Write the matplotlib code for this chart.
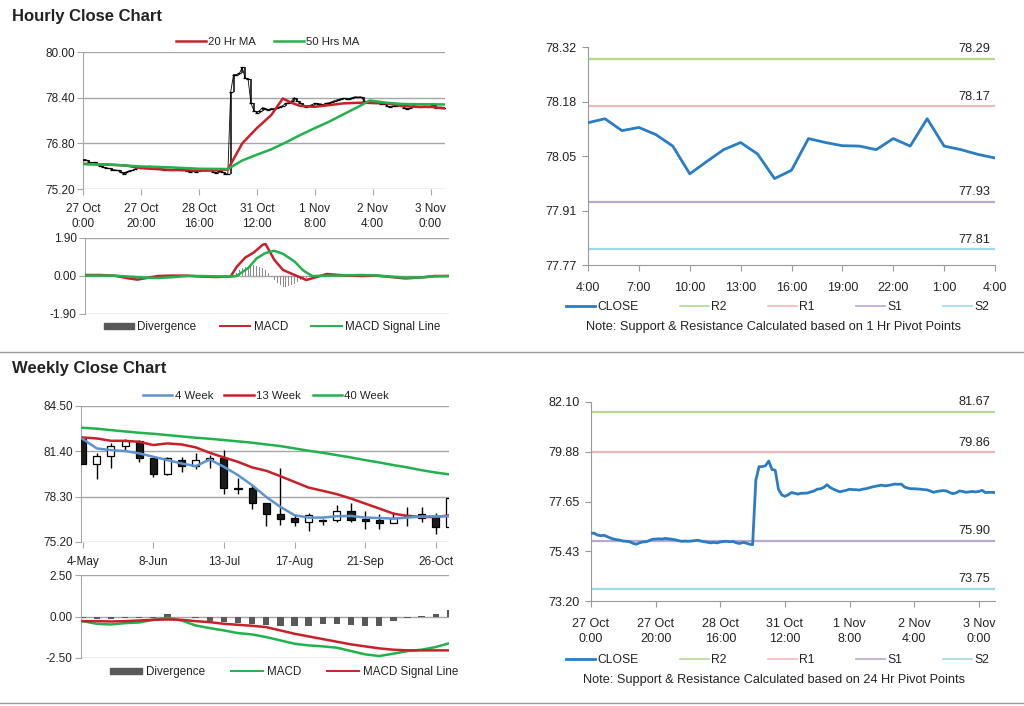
import matplotlib
matplotlib.use('Agg')
import matplotlib.pyplot as plt
from matplotlib.lines import Line2D
from matplotlib.patches import Patch, Rectangle

plt.rcParams['font.family'] = ['Liberation Sans', 'DejaVu Sans']

# ---------------- DATA ----------------
# Hourly close (index = trading hour from 27 Oct 0:00)
hourly_close = [
    76.23, 76.23, 76.15, 76.12, 76.14, 76.08, 76.02, 75.97, 75.94, 75.92,
    75.88, 75.87, 75.85, 75.78, 75.74, 75.80, 75.84, 75.85, 75.90, 75.96,
    75.97, 75.98, 75.97, 76.00, 75.98, 75.96, 75.94, 75.90, 75.87, 75.88,
    75.87, 75.88, 75.90, 75.92, 75.88, 75.85, 75.83, 75.80, 75.82, 75.80,
    75.84, 75.86, 75.87, 75.85, 75.86, 75.80, 75.77, 75.82, 75.79, 75.74,
    75.72, 78.60, 79.21, 79.21, 79.25, 79.46, 79.08, 79.05, 78.20, 77.95,
    77.88, 77.95, 78.05, 78.02, 77.98, 78.02, 78.02, 78.03, 78.08, 78.12,
    78.20, 78.22, 78.28, 78.40, 78.28, 78.20, 78.14, 78.08, 78.12, 78.15,
    78.20, 78.18, 78.18, 78.16, 78.20, 78.22, 78.26, 78.30, 78.33, 78.36,
    78.38, 78.35, 78.37, 78.40, 78.43, 78.42, 78.43, 78.30, 78.25, 78.22,
    78.22, 78.21, 78.20, 78.18, 78.17, 78.12, 78.06, 78.10, 78.12, 78.14,
    78.12, 78.05, 78.00, 78.04, 78.12, 78.10, 78.06, 78.08, 78.10, 78.08,
    78.10, 78.15, 78.05, 78.06, 78.06, 78.05]
hour_tick_pos = [0, 20, 40, 60, 80, 100, 120]
hour_tick_labels = ['27 Oct\n0:00', '27 Oct\n20:00', '28 Oct\n16:00', '31 Oct\n12:00',
                    '1 Nov\n8:00', '2 Nov\n4:00', '3 Nov\n0:00']

ma20_hours = [0, 5, 10, 15, 20, 25, 30, 35, 40, 45, 50, 55, 60, 65, 69, 72, 75, 80,
              85, 90, 95, 100, 105, 110, 115, 120, 125]
ma20_vals = [76.08, 76.06, 76.05, 76.02, 75.93, 75.90, 75.87, 75.86, 75.84, 75.85, 75.88,
             76.80, 77.33, 77.79, 78.37, 78.22, 78.11, 78.08, 78.14, 78.20, 78.22, 78.22,
             78.20, 78.11, 78.08, 78.08, 78.02]
ma50_hours = [0, 10, 20, 30, 40, 50, 55, 60, 65, 70, 75, 80, 85, 90, 95, 99, 105, 110,
              115, 120, 125]
ma50_vals = [76.08, 76.05, 75.99, 75.96, 75.91, 75.90, 76.20, 76.40, 76.59, 76.83, 77.09,
             77.33, 77.56, 77.82, 78.08, 78.30, 78.22, 78.18, 78.17, 78.17, 78.16]

macd_hours = [0, 5, 10, 15, 18, 22, 25, 30, 35, 40, 45, 50, 52, 55, 58, 61, 62, 65, 68,
              72, 76, 80, 83, 90, 95, 100, 105, 110, 115, 120, 125]
macd_vals = [0.05, 0.05, 0.02, -0.12, -0.18, -0.08, 0.0, 0.02, 0.02, -0.03, -0.05, -0.03,
             0.44, 0.92, 1.18, 1.56, 1.60, 0.81, 0.30, 0.05, -0.20, -0.03, 0.10, 0.02,
             0.0, 0.02, -0.05, -0.12, -0.08, 0.0, 0.0]
signal_hours = [0, 10, 20, 25, 30, 35, 40, 45, 50, 52, 56, 59, 62, 65, 68, 72, 75, 78,
                85, 95, 100, 105, 110, 115, 120, 125]
signal_vals = [0.02, 0.02, -0.08, -0.10, -0.06, 0.0, 0.0, -0.02, -0.03, 0.0, 0.39, 0.89,
               1.15, 1.26, 1.11, 0.72, 0.27, 0.0, 0.02, 0.05, 0.03, -0.03, -0.08, -0.08,
               -0.02, 0.0]
div_hours = [8, 9, 10, 11, 30, 31, 32, 51, 52, 53, 54, 55, 56, 57, 58, 59, 60, 61, 62, 63,
             64, 65, 66, 67, 68, 69, 70, 71, 72, 73, 74, 75, 76, 77, 85, 86, 87, 88]
div_vals = [-0.04, -0.05, -0.04, -0.03, 0.04, 0.05, 0.04, 0.05, 0.15, 0.28, 0.38, 0.45,
            0.50, 0.53, 0.53, 0.50, 0.45, 0.40, 0.30, 0.15, -0.05, -0.20, -0.35, -0.45,
            -0.55, -0.55, -0.50, -0.45, -0.38, -0.30, -0.22, -0.15, -0.08, -0.03,
            -0.04, -0.05, -0.04, -0.03]

# 1-hour pivot chart (4:00 to 4:00)
pivot1_close = [78.129, 78.139, 78.109, 78.117, 78.099, 78.070, 78.000, 78.031, 78.061,
                78.079, 78.050, 77.988, 78.009, 78.089, 78.079, 78.071, 78.070, 78.061,
                78.089, 78.070, 78.139, 78.070, 78.061, 78.049, 78.040]
pivot1_ticks = ['4:00', '7:00', '10:00', '13:00', '16:00', '19:00', '22:00', '1:00', '4:00']
pivot1_levels = {'R2': 78.29, 'R1': 78.17, 'S1': 77.93, 'S2': 77.81}
pivot24_levels = {'R2': 81.67, 'R1': 79.86, 'S1': 75.90, 'S2': 73.75}

# Weekly candles (4-May ... 2-Nov)
wk_open = [82.24, 80.52, 81.05, 81.76, 82.10, 80.91, 79.84, 80.84, 80.39, 80.80, 80.93,
           78.90, 78.90, 77.87, 77.14, 76.82, 76.57, 76.73, 76.73, 77.33, 76.80, 76.68,
           76.50, 76.98, 77.10, 76.91, 76.23]
wk_close = [80.52, 81.05, 81.76, 82.10, 80.91, 79.84, 80.91, 80.39, 80.80, 80.93, 78.86,
            78.80, 77.87, 77.09, 76.80, 76.57, 77.03, 76.62, 77.33, 76.73, 76.64, 76.50,
            76.84, 77.07, 76.85, 76.23, 78.24]
wk_high = [82.35, 81.26, 81.94, 82.26, 82.17, 81.03, 81.03, 80.98, 81.26, 81.12, 81.48,
           79.61, 79.13, 77.87, 80.23, 77.03, 77.19, 76.80, 77.76, 77.87, 77.33, 77.10,
           77.26, 77.62, 77.62, 77.17, 78.24]
wk_low = [80.52, 79.54, 80.29, 81.48, 80.64, 79.66, 79.77, 80.00, 80.16, 80.29, 78.47,
          78.47, 77.48, 76.30, 76.34, 76.27, 75.95, 76.37, 76.57, 76.57, 76.10, 76.10,
          76.50, 76.30, 76.57, 75.77, 76.23]
wk_ma4 = [82.24, 81.60, 81.48, 81.42, 81.26, 81.03, 80.80, 80.57, 80.39, 80.84, 80.34,
          79.77, 79.08, 78.28, 77.60, 77.03, 76.87, 76.87, 76.96, 76.98, 76.87, 76.84,
          76.80, 76.87, 76.94, 76.96, 76.96]
wk_ma13 = [82.35, 82.28, 82.12, 82.12, 82.05, 81.83, 81.94, 81.87, 81.67, 81.30, 80.98,
           80.68, 80.30, 80.07, 79.70, 79.31, 78.92, 78.70, 78.47, 78.17, 77.83, 77.49,
           77.14, 76.98, 76.91, 76.91, 77.03]
wk_ma40 = [83.01, 82.95, 82.85, 82.76, 82.67, 82.60, 82.51, 82.42, 82.33, 82.26, 82.17,
           82.08, 81.99, 81.87, 81.76, 81.60, 81.44, 81.30, 81.14, 80.98, 80.80, 80.64,
           80.46, 80.30, 80.11, 79.95, 79.82]
wk_tick_pos = [0, 5, 10, 15, 20, 25]
wk_tick_labels = ['4-May', '8-Jun', '13-Jul', '17-Aug', '21-Sep', '26-Oct']
wk_macd = [-0.28, -0.44, -0.48, -0.40, -0.36, -0.20, -0.08, -0.24, -0.54, -0.70, -0.84,
           -1.00, -1.08, -1.24, -1.44, -1.64, -1.74, -1.80, -1.88, -2.08, -2.28, -2.38,
           -2.24, -2.08, -2.00, -1.84, -1.60]
wk_signal = [-0.28, -0.28, -0.30, -0.28, -0.24, -0.20, -0.18, -0.20, -0.28, -0.34, -0.44,
             -0.50, -0.56, -0.64, -0.84, -1.04, -1.20, -1.36, -1.52, -1.68, -1.80, -1.92,
             -2.00, -2.04, -2.04, -2.04, -2.04]
wk_div = [-0.10, -0.15, -0.15, -0.10, -0.10, -0.08, 0.16, -0.05, -0.10, -0.30, -0.35,
          -0.40, -0.45, -0.50, -0.55, -0.60, -0.55, -0.45, -0.45, -0.50, -0.55, -0.55,
          -0.25, -0.08, 0.05, 0.15, 0.40]

# ---------------- STYLE ----------------
RED = '#c8202a'
GREEN = '#22b14c'
BLUE4 = '#5f93cf'
CLOSE_BLUE = '#2a7cc4'
LEVEL_COLORS = {'R2': '#b5d98f', 'R1': '#f2b8b8', 'S1': '#b9a8d2', 'S2': '#9fd8e8'}
GRID = '#a6a6a6'
TXT = '#222222'

W, H = 1024, 706
fig = plt.figure(figsize=(W / 100, H / 100), dpi=100)


def ax_px(l, t, r, b):
    return fig.add_axes([l / W, 1 - b / H, (r - l) / W, (b - t) / H])


def style_left(ax, yticks, fmt, xpad=4):
    ax.set_yticks(yticks)
    ax.set_yticklabels([fmt % v for v in yticks])
    ax.set_ylim(yticks[0], yticks[-1])
    ax.grid(axis='y', color=GRID, lw=1)
    ax.grid(axis='x', visible=False)
    ax.set_axisbelow(True)
    for s in ['top', 'right', 'bottom']:
        ax.spines[s].set_visible(False)
    ax.spines['left'].set_color(GRID)
    ax.tick_params(axis='y', length=4, color=GRID, labelsize=8.5, labelcolor=TXT, pad=2)
    ax.tick_params(axis='x', length=4, color=GRID, labelsize=8.5, labelcolor=TXT, pad=xpad)


def style_right(ax, ylo, yhi):
    step = (yhi - ylo) / 4
    ticks = [ylo + k * step for k in range(5)]
    ax.set_ylim(ylo, yhi)
    ax.set_yticks(ticks)
    ax.set_yticklabels(['%.2f' % (t + 1e-9) for t in ticks])
    for s in ['top', 'right']:
        ax.spines[s].set_visible(False)
    for s in ['left', 'bottom']:
        ax.spines[s].set_color('#999999')
    ax.tick_params(axis='y', length=4, color='#999999', labelsize=9, labelcolor=TXT, pad=4)
    ax.tick_params(axis='x', length=4, color='#999999', labelsize=9, labelcolor=TXT, pad=8)


def levels(ax, lv):
    for name in ['R2', 'R1', 'S1', 'S2']:
        v = lv[name]
        ax.axhline(v, color=LEVEL_COLORS[name], lw=1.6, zorder=1)
        ax.annotate('%.2f' % v, xy=(1.0, v), xycoords=('axes fraction', 'data'),
                    xytext=(-3.5, 2.5), textcoords='offset points', ha='right', va='bottom',
                    fontsize=9.2, color=TXT)


def right_legend(y_center, note):
    handles = [Line2D([], [], color=CLOSE_BLUE, lw=2)] + \
              [Line2D([], [], color=LEVEL_COLORS[n], lw=1.2) for n in ['R2', 'R1', 'S1', 'S2']]
    fig.legend(handles, ['CLOSE', 'R2', 'R1', 'S1', 'S2'], ncol=5, loc='center',
               bbox_to_anchor=(778 / W, 1 - y_center / H), frameon=False, fontsize=8.7,
               handlelength=2.4, handletextpad=0.2, columnspacing=3.4, labelcolor=TXT)
    fig.text(774 / W, 1 - (y_center + 20) / H, note, ha='center', va='center',
             fontsize=9.2, color=TXT)


hx = list(range(len(hourly_close)))
xmax_h = len(hourly_close) - 1

# ---------- Titles and separators ----------
fig.text(12 / W, 1 - 16 / H, 'Hourly Close Chart', fontsize=12, fontweight='bold',
         color=TXT, va='center', ha='left')
fig.text(12 / W, 1 - 369 / H, 'Weekly Close Chart', fontsize=12, fontweight='bold',
         color=TXT, va='center', ha='left')
fig.add_artist(Line2D([0, 1], [1 - 352 / H, 1 - 352 / H], color='#9a9a9a', lw=1))
fig.add_artist(Line2D([0, 1], [1 - 703 / H, 1 - 703 / H], color='#9a9a9a', lw=1))

# ---------- Top-left: hourly close with MAs ----------
ax1 = ax_px(83, 52, 445, 189)
ax1.set_xlim(0, xmax_h)
style_left(ax1, [75.2, 76.8, 78.4, 80.0], '%.2f', xpad=6)
ax1.vlines(hx[1:], hourly_close[:-1], hourly_close[1:], color='black', lw=1.1, zorder=3)
ax1.plot(hx, hourly_close, color='black', lw=0.6, marker='_', ms=2.5, mew=0.9, zorder=3)
ax1.plot(ma20_hours, ma20_vals, color=RED, lw=1.8, zorder=4)
ax1.plot(ma50_hours, ma50_vals, color=GREEN, lw=1.8, zorder=5)
ax1.set_xticks(hour_tick_pos)
ax1.set_xticklabels(hour_tick_labels, linespacing=1.3)
fig.legend([Line2D([], [], color=RED, lw=1.8), Line2D([], [], color=GREEN, lw=1.8)],
           ['20 Hr MA', '50 Hrs MA'], ncol=2, loc='center',
           bbox_to_anchor=(268 / W, 1 - 42 / H), frameon=False, fontsize=8.2,
           handlelength=2.6, handletextpad=0.2, columnspacing=1.6, labelcolor=TXT)

# ---------- Top-left MACD ----------
ax2 = ax_px(85, 238, 449, 314)
ax2.set_xlim(0, xmax_h)
style_left(ax2, [-1.9, 0.0, 1.9], '%.2f')
ax2.bar(div_hours, div_vals, width=0.35, color='#8a8a8a', zorder=2)
ax2.plot(macd_hours, macd_vals, color=RED, lw=1.8, zorder=3)
ax2.plot(signal_hours, signal_vals, color=GREEN, lw=1.8, zorder=4)
ax2.set_xticks([])
fig.legend([Patch(color='#595959'), Line2D([], [], color=RED, lw=1.4),
            Line2D([], [], color=GREEN, lw=1.4)],
           ['Divergence', 'MACD', 'MACD Signal Line'], ncol=3, loc='center',
           bbox_to_anchor=(272 / W, 1 - 327 / H), frameon=False, fontsize=8.4,
           handlelength=2.6, handleheight=0.5, handletextpad=0.3, columnspacing=2.0,
           labelcolor=TXT)

# ---------- Top-right: 1 hr pivots ----------
ax3 = ax_px(588, 47, 995, 265)
px = list(range(len(pivot1_close)))
ax3.set_xlim(0, len(pivot1_close) - 1)
style_right(ax3, 77.77, 78.32)
levels(ax3, pivot1_levels)
ax3.plot(px, pivot1_close, color=CLOSE_BLUE, lw=2, zorder=3)
ax3.set_xticks(px[::3])
ax3.set_xticklabels(pivot1_ticks)
right_legend(307, 'Note: Support & Resistance Calculated based on 1 Hr Pivot Points')

# ---------- Bottom-left: weekly candles ----------
ax4 = ax_px(81, 406, 449, 542)
ax4.set_xlim(-0.12, 25.94)
style_left(ax4, [75.2, 78.3, 81.4, 84.5], '%.2f', xpad=6)
bw = 0.5
for i in range(len(wk_open)):
    o, c, hi, lo = wk_open[i], wk_close[i], wk_high[i], wk_low[i]
    ax4.vlines(i, lo, hi, color='black', lw=1, zorder=2)
    bull = c >= o
    ax4.add_patch(Rectangle((i - bw / 2, min(o, c)), bw, max(abs(c - o), 0.06),
                            facecolor='white' if bull else '#1a1a1a',
                            edgecolor='black', lw=0.9, zorder=3))
wx = list(range(len(wk_ma4)))
ax4.plot(wx, wk_ma40, color=GREEN, lw=1.8, zorder=4)
ax4.plot(wx, wk_ma13, color=RED, lw=1.8, zorder=5)
ax4.plot(wx, wk_ma4, color=BLUE4, lw=1.8, zorder=6)
ax4.set_xticks(wk_tick_pos)
ax4.set_xticklabels(wk_tick_labels)
fig.legend([Line2D([], [], color=BLUE4, lw=1.8), Line2D([], [], color=RED, lw=1.8),
            Line2D([], [], color=GREEN, lw=1.8)],
           ['4 Week', '13 Week', '40 Week'], ncol=3, loc='center',
           bbox_to_anchor=(266 / W, 1 - 396 / H), frameon=False, fontsize=8.2,
           handlelength=2.6, handletextpad=0.2, columnspacing=1.0, labelcolor=TXT)

# ---------- Bottom-left weekly MACD ----------
ax5 = ax_px(81, 575, 449, 658)
ax5.set_xlim(-0.12, 25.94)
style_left(ax5, [-2.5, 0.0, 2.5], '%.2f')
ax5.bar(wx, wk_div, width=0.45, color='#595959', zorder=2)
ax5.plot(wx, wk_macd, color=GREEN, lw=1.8, zorder=3)
ax5.plot(wx, wk_signal, color=RED, lw=1.8, zorder=4)
ax5.set_xticks([])
fig.legend([Patch(color='#595959'), Line2D([], [], color=GREEN, lw=1.4),
            Line2D([], [], color=RED, lw=1.4)],
           ['Divergence', 'MACD', 'MACD Signal Line'], ncol=3, loc='center',
           bbox_to_anchor=(284 / W, 1 - 672 / H), frameon=False, fontsize=8.4,
           handlelength=2.8, handleheight=0.5, handletextpad=0.3, columnspacing=2.2,
           labelcolor=TXT)

# ---------- Bottom-right: 24 hr pivots ----------
ax6 = ax_px(591, 402, 995, 601)
ax6.set_xlim(0, xmax_h)
style_right(ax6, 73.20, 82.10)
levels(ax6, pivot24_levels)
ax6.plot(hx, hourly_close, color=CLOSE_BLUE, lw=2, zorder=3)
ax6.set_xticks(hour_tick_pos)
ax6.set_xticklabels(hour_tick_labels, linespacing=1.35)
right_legend(660, 'Note: Support & Resistance Calculated based on 24 Hr Pivot Points')

fig.savefig('out.png', dpi=100)
